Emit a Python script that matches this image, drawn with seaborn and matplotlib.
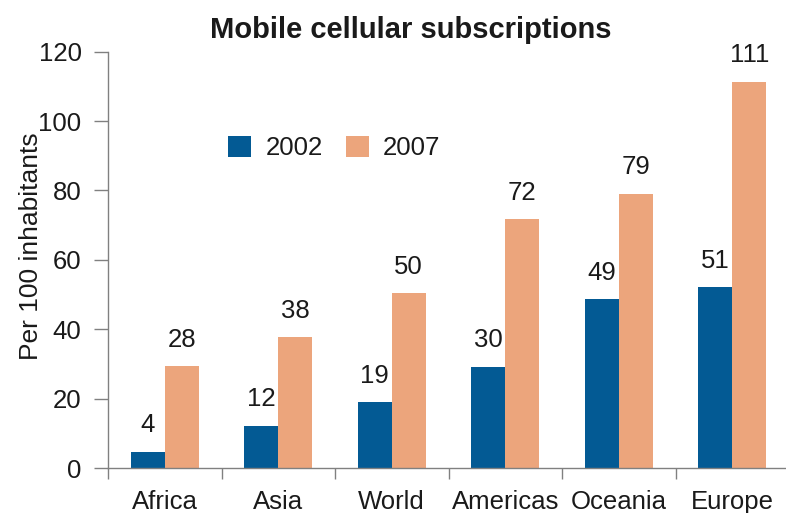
import numpy as np
import pandas as pd
import matplotlib
matplotlib.use('Agg')
import matplotlib.pyplot as plt
from matplotlib.ticker import FixedLocator
import seaborn as sns

sns.set_style('white')
plt.rcParams['font.family'] = ['Liberation Sans', 'DejaVu Sans']

regions = ['Africa', 'Asia', 'World', 'Americas', 'Oceania', 'Europe']
years = ['2002', '2007']
subs_2002 = [4.6, 12.2, 19.0, 29.1, 48.6, 52.1]
subs_2007 = [29.3, 37.7, 50.4, 71.7, 79.1, 111.4]
labels_2002 = ['4', '12', '19', '30', '49', '51']
labels_2007 = ['28', '38', '50', '72', '79', '111']
yticks = [0, 20, 40, 60, 80, 100, 120]

colors = ['#035a94', '#eca57c']
axis_grey = '#808080'
text_col = '#1a1a1a'
FS = 18.5

df = pd.DataFrame({
    'Region': regions * 2,
    'Year': [years[0]] * len(regions) + [years[1]] * len(regions),
    'Value': subs_2002 + subs_2007,
})

fig = plt.figure(figsize=(7.86, 5.13), dpi=100)
ax = fig.add_axes([108 / 786, 1 - 468 / 513, 681 / 786, (468 - 51.7) / 513])

sns.barplot(data=df, x='Region', y='Value', hue='Year', order=regions,
            hue_order=years, palette=colors, width=0.6, gap=0,
            linewidth=0, saturation=1, ax=ax)

# value labels above bars
for cont, labs in zip(ax.containers, [labels_2002, labels_2007]):
    ax.bar_label(cont, labels=labs, padding=10.5, fontsize=FS, color=text_col)

ax.set_xlim(-0.5, len(regions) - 0.5)
ax.set_ylim(0, 120)
ax.set_yticks(yticks)

# category boundaries as small ticks, labels at centres without ticks
ax.xaxis.set_minor_locator(FixedLocator(np.arange(len(regions)) - 0.5))
ax.tick_params(axis='x', which='major', length=0, pad=15.5, labelsize=FS,
               labelcolor=text_col)
ax.tick_params(axis='x', which='minor', length=8, width=1, color=axis_grey,
               direction='out', bottom=True)
ax.tick_params(axis='y', length=10, width=1, color=axis_grey, direction='out',
               left=True, pad=9, labelsize=FS, labelcolor=text_col)

for side in ['top', 'right']:
    ax.spines[side].set_visible(False)
for side in ['left', 'bottom']:
    ax.spines[side].set_color(axis_grey)
    ax.spines[side].set_linewidth(1)

ax.set_xlabel('')
ax.set_ylabel('Per 100 inhabitants', fontsize=19, color=text_col)
ax.yaxis.set_label_coords(-0.095, 0.532)

ax.legend(loc='center left', bbox_to_anchor=(228 / 786, 1 - 148 / 513),
          bbox_transform=fig.transFigure, ncol=2, frameon=False, fontsize=FS,
          handlelength=0.9, handleheight=0.9, handletextpad=0.55,
          columnspacing=0.9, borderpad=0, borderaxespad=0,
          labelcolor=text_col)

fig.text(411 / 786, 1 - 38 / 513, 'Mobile cellular subscriptions',
         ha='center', va='baseline', fontsize=21, fontweight='bold',
         color=text_col)

fig.savefig('out.png', dpi=100)
